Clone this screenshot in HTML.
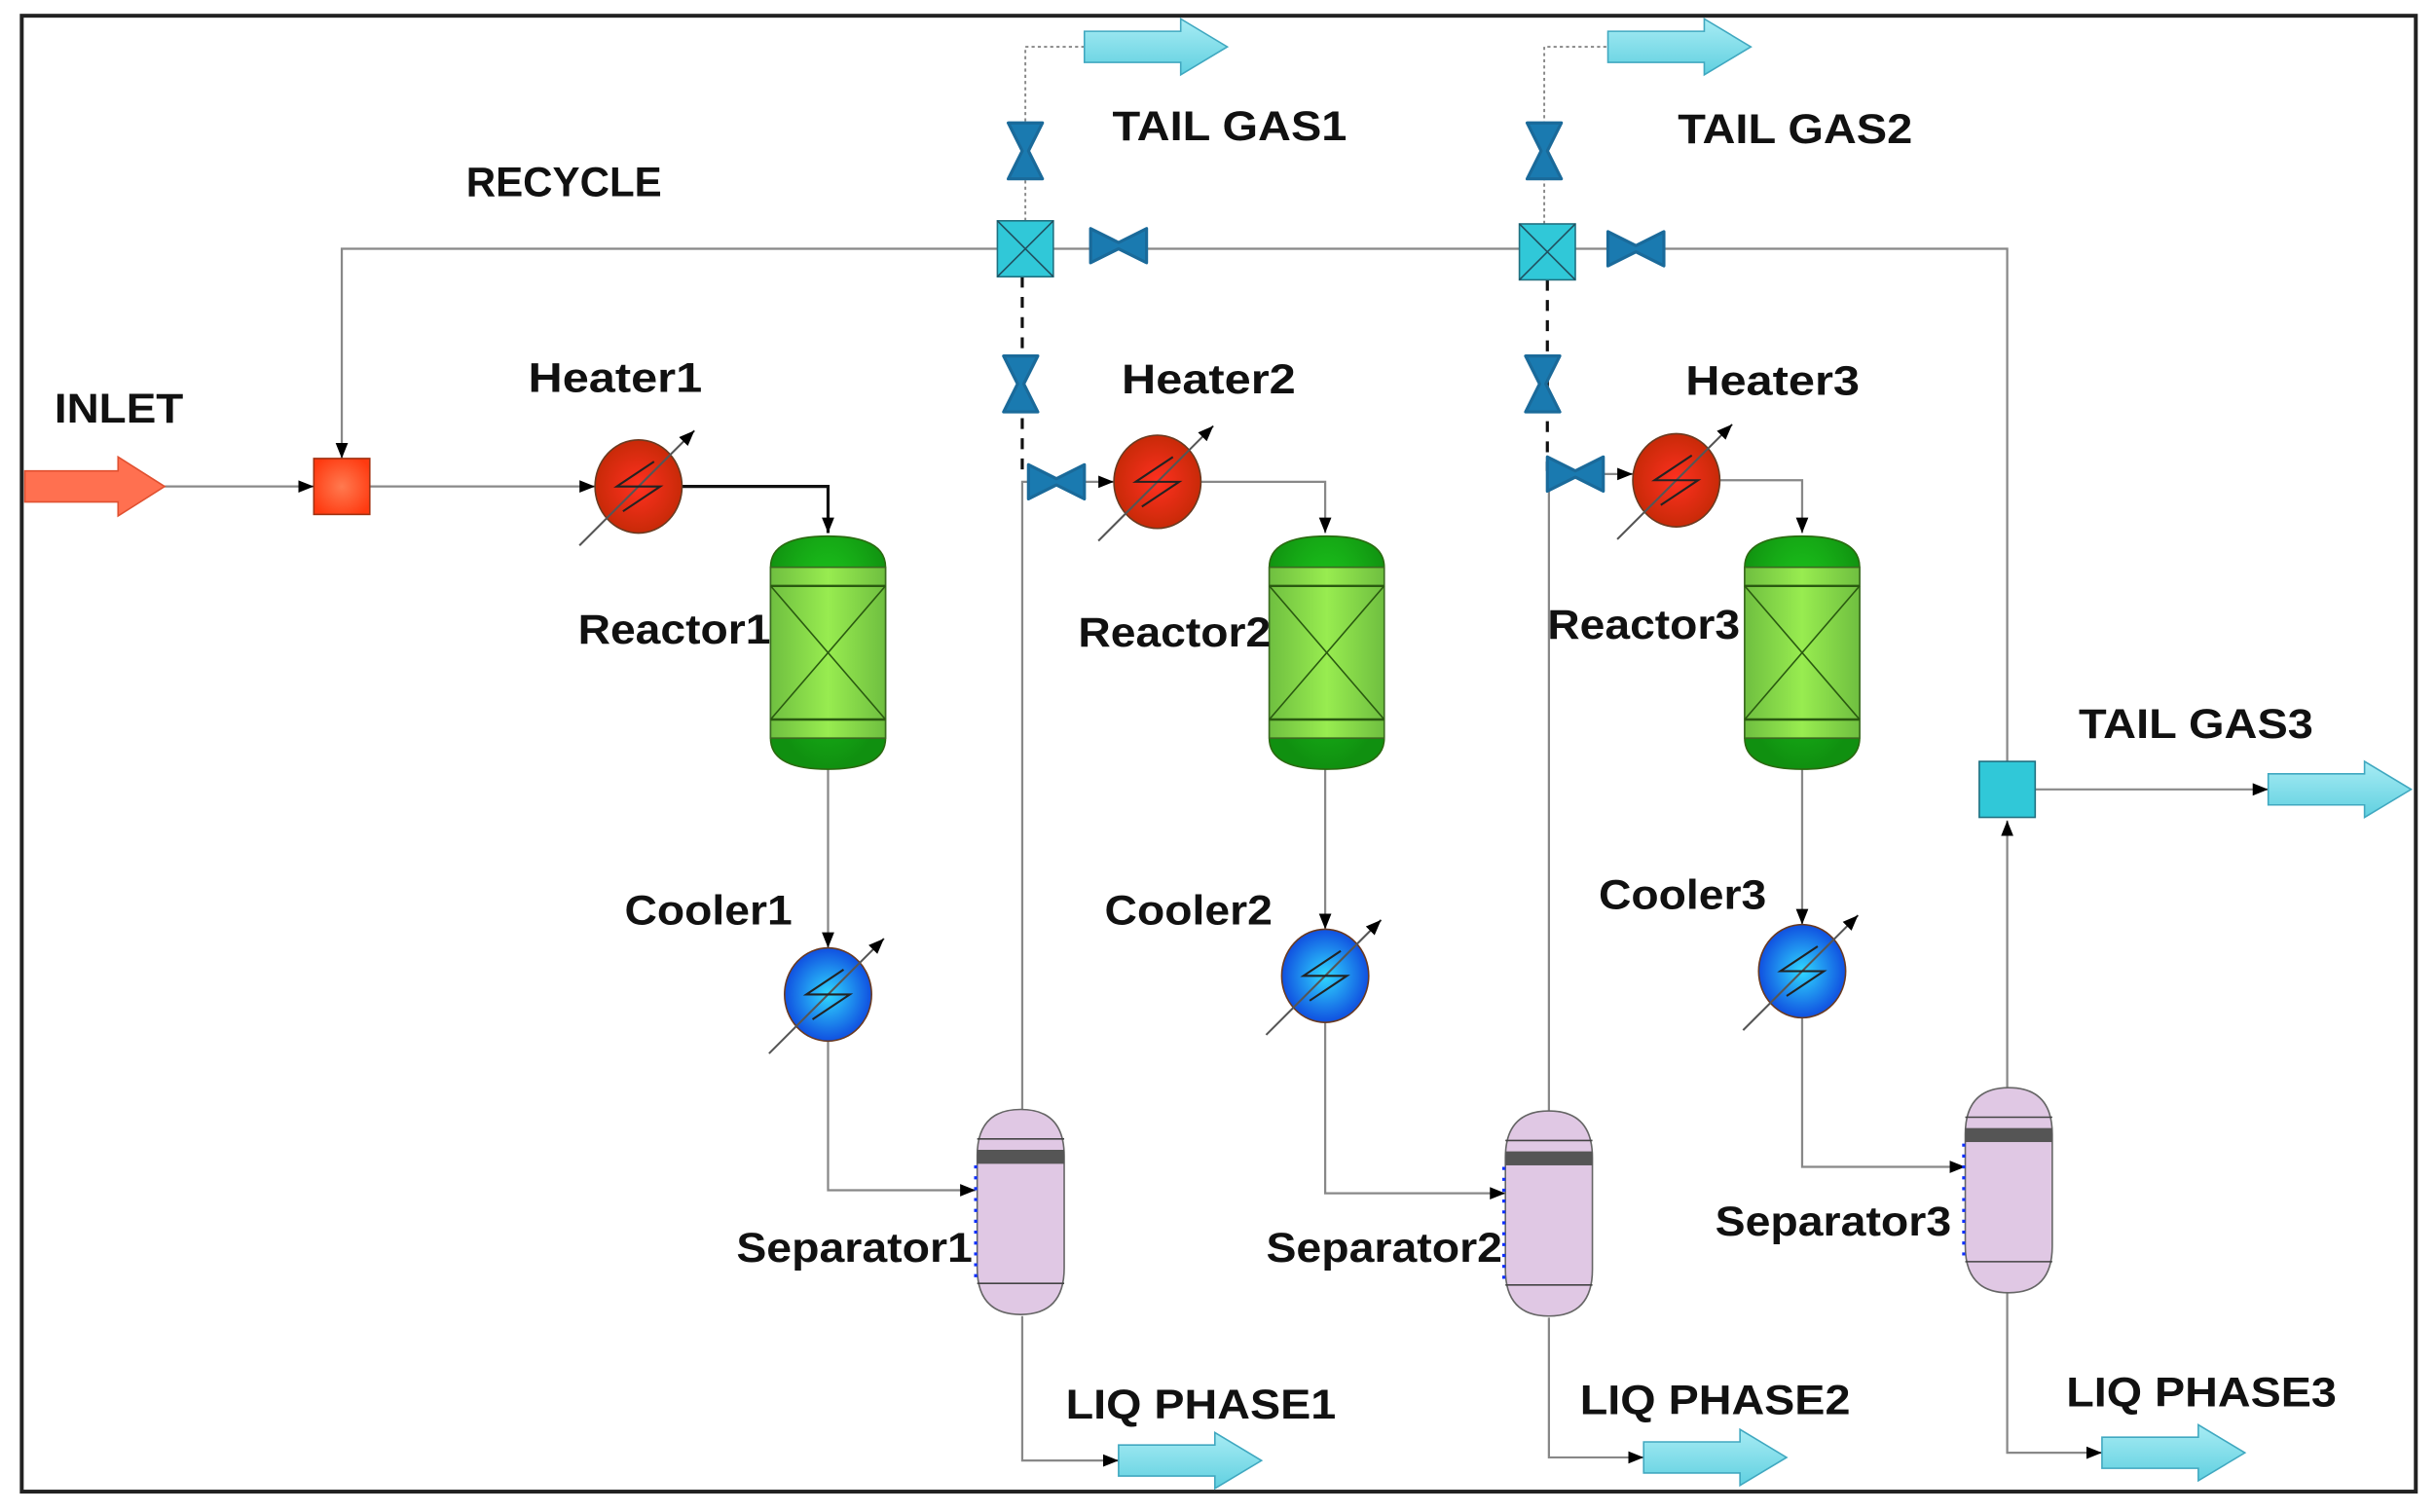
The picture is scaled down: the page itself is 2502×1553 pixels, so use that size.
<!DOCTYPE html>
<html><head><meta charset="utf-8"><style>
html,body{margin:0;padding:0;background:#fff;}
svg{display:block;}
text{font-family:"Liberation Sans",sans-serif;font-size:27px;font-weight:bold;fill:#111;}
</style></head><body>
<svg width="2502" height="1553" viewBox="0 0 1568 973" xmlns="http://www.w3.org/2000/svg">
<defs>
<radialGradient id="gr" cx="0.5" cy="0.5" r="0.5"><stop offset="0" stop-color="#ff3020"/><stop offset="1" stop-color="#c82a08"/></radialGradient>
<radialGradient id="gb" cx="0.5" cy="0.5" r="0.5"><stop offset="0" stop-color="#30d8ff"/><stop offset="1" stop-color="#1050e0"/></radialGradient>
<radialGradient id="gm" cx="0.5" cy="0.5" r="0.6"><stop offset="0" stop-color="#ff7a50"/><stop offset="1" stop-color="#ff3a10"/></radialGradient>
<linearGradient id="gg" x1="0" x2="1"><stop offset="0" stop-color="#6fbf40"/><stop offset="0.5" stop-color="#98ec50"/><stop offset="1" stop-color="#6fbf40"/></linearGradient>
<radialGradient id="gd" cx="0.5" cy="0.4" r="0.6"><stop offset="0" stop-color="#20d820"/><stop offset="1" stop-color="#109010"/></radialGradient>
<linearGradient id="gc" x1="0" x2="0" y1="0" y2="1"><stop offset="0" stop-color="#a8ecf4"/><stop offset="1" stop-color="#60d0e0"/></linearGradient>
<marker id="ar" viewBox="0 0 10 10" refX="10" refY="5" markerWidth="10" markerHeight="10" markerUnits="userSpaceOnUse" orient="auto"><path d="M0,1 L10,5 L0,9 z" fill="#000"/></marker>
<g id="heat">
<ellipse cx="0" cy="0" rx="28" ry="30" stroke="#6a3a20" stroke-width="1"/>
<line x1="-38" y1="38" x2="36" y2="-36" stroke="#555" stroke-width="1.3" marker-end="url(#ar)"/>
<path d="M10,-16 L-14,0 L14,0 L-10,16" fill="none" stroke="#222" stroke-width="1.3"/>
</g>
<g id="reac">
<path d="M0,20 Q0,0 37,0 Q74,0 74,20 L74,130 Q74,150 37,150 Q0,150 0,130 Z" fill="url(#gd)" stroke="#2a6a10"/>
<rect x="0" y="20" width="74" height="110" fill="url(#gg)" stroke="#3a6a20"/>
<line x1="0" y1="32" x2="74" y2="32" stroke="#2a5a10" stroke-width="1.5"/>
<line x1="0" y1="118" x2="74" y2="118" stroke="#2a5a10" stroke-width="1.5"/>
<line x1="0" y1="32" x2="74" y2="118" stroke="#2a5a10"/>
<line x1="74" y1="32" x2="0" y2="118" stroke="#2a5a10"/>
</g>
<g id="sep">
<path d="M0,30 Q0,0 28,0 Q56,0 56,30 L56,102 Q56,132 28,132 Q0,132 0,102 Z" fill="#e0c8e4" stroke="#666"/>
<line x1="0" y1="19" x2="56" y2="19" stroke="#444"/>
<rect x="0" y="26" width="56" height="9" fill="#555"/>
<line x1="0" y1="112" x2="56" y2="112" stroke="#444"/>
<line x1="-1" y1="36" x2="-1" y2="110" stroke="#1030ff" stroke-width="2" stroke-dasharray="2,5"/>
</g>
<g id="vh"><path d="M-18,-11 L-18,11 L0,2 L18,11 L18,-11 L0,-2 Z" fill="#1a7ab0" stroke="#1a6a9a" stroke-linejoin="round" stroke-width="2"/></g>
<g id="vv"><path d="M-11,-18 L11,-18 L2,0 L11,18 L-11,18 L-2,0 Z" fill="#1a7ab0" stroke="#1a6a9a" stroke-linejoin="round" stroke-width="2"/></g>
<g id="out"><path d="M0,-10 L62,-10 L62,-18 L92,0 L62,18 L62,10 L0,10 Z" fill="url(#gc)" stroke="#40a8c0"/></g>
<g id="spl"><rect x="-18" y="-18" width="36" height="36" fill="#30c8d8" stroke="#207080"/><line x1="-18" y1="-18" x2="18" y2="18" stroke="#205060"/><line x1="18" y1="-18" x2="-18" y2="18" stroke="#205060"/></g>
</defs>

<rect x="14" y="10" width="1541" height="950" fill="#fff" stroke="#222" stroke-width="2.5"/>

<g fill="none" stroke="#888" stroke-width="1.4">
<line x1="106" y1="313" x2="202" y2="313" marker-end="url(#ar)"/>
<line x1="238" y1="313" x2="383" y2="313" marker-end="url(#ar)"/>
<polyline points="1292,700 1292,528" marker-end="url(#ar)"/>
<polyline points="1292,492 1292,160 220,160 220,295" marker-end="url(#ar)"/>
<line x1="1310" y1="508" x2="1460" y2="508" marker-end="url(#ar)"/>
<line x1="533" y1="495" x2="533" y2="610" marker-end="url(#ar)"/>
<line x1="853" y1="495" x2="853" y2="598" marker-end="url(#ar)"/>
<line x1="1160" y1="495" x2="1160" y2="595" marker-end="url(#ar)"/>
<polyline points="533,668 533,766 628,766" marker-end="url(#ar)"/>
<polyline points="853,656 853,768 969,768" marker-end="url(#ar)"/>
<polyline points="1160,653 1160,751 1265,751" marker-end="url(#ar)"/>
<polyline points="658,715 658,310 698,310"/>
<polyline points="997,715 997,305 1030,305"/>
<line x1="698" y1="310" x2="717" y2="310" marker-end="url(#ar)"/>
<line x1="1030" y1="305" x2="1051" y2="305" marker-end="url(#ar)"/>
<polyline points="658,847 658,940 720,940" marker-end="url(#ar)"/>
<polyline points="997,848 997,938 1058,938" marker-end="url(#ar)"/>
<polyline points="1292,832 1292,935 1353,935" marker-end="url(#ar)"/>
<polyline points="773,310 853,310 853,343" marker-end="url(#ar)"/>
<polyline points="1107,309 1160,309 1160,343" marker-end="url(#ar)"/>
</g>
<polyline points="439,313 533,313 533,343" fill="none" stroke="#111" stroke-width="2" marker-end="url(#ar)"/>
<g fill="none" stroke="#888" stroke-width="1.2" stroke-dasharray="2,2">
<polyline points="660,142 660,30 698,30"/>
<polyline points="994,144 994,30 1035,30"/>
</g>
<g fill="none" stroke="#111" stroke-width="2" stroke-dasharray="7,6">
<line x1="658" y1="178" x2="658" y2="308"/>
<line x1="996" y1="180" x2="996" y2="303"/>
</g>

<use href="#out" x="698" y="30"/>
<use href="#out" x="1035" y="30"/>
<use href="#out" x="1460" y="508"/>
<use href="#out" x="720" y="940"/>
<use href="#out" x="1058" y="938"/>
<use href="#out" x="1353" y="935"/>
<path d="M16,303 L76,303 L76,294 L106,313 L76,332 L76,323 L16,323 Z" fill="#ff7050" stroke="#e05030"/>

<rect x="202" y="295" width="36" height="36" fill="url(#gm)" stroke="#a03010"/>
<use href="#spl" x="660" y="160"/>
<use href="#spl" x="996" y="162"/>
<rect x="1274" y="490" width="36" height="36" fill="#30c8d8" stroke="#207080"/>
<use href="#vh" x="720" y="158"/>
<use href="#vh" x="1053" y="160"/>
<use href="#vh" x="680" y="310"/>
<use href="#vh" x="1014" y="305"/>
<use href="#vv" x="660" y="97"/>
<use href="#vv" x="994" y="97"/>
<use href="#vv" x="657" y="247"/>
<use href="#vv" x="993" y="247"/>

<use href="#heat" x="411" y="313" fill="url(#gr)"/>
<use href="#heat" x="745" y="310" fill="url(#gr)"/>
<use href="#heat" x="1079" y="309" fill="url(#gr)"/>
<use href="#heat" x="533" y="640" fill="url(#gb)"/>
<use href="#heat" x="853" y="628" fill="url(#gb)"/>
<use href="#heat" x="1160" y="625" fill="url(#gb)"/>

<use href="#reac" x="496" y="345"/>
<use href="#reac" x="817" y="345"/>
<use href="#reac" x="1123" y="345"/>
<use href="#sep" x="629" y="714"/>
<use href="#sep" x="969" y="715"/>
<use href="#sep" x="1265" y="700"/>

<g>
<text x="35" y="272" textLength="83" lengthAdjust="spacingAndGlyphs">INLET</text>
<text x="300" y="126" textLength="126" lengthAdjust="spacingAndGlyphs">RECYCLE</text>
<text x="340" y="252" textLength="112" lengthAdjust="spacingAndGlyphs">Heater1</text>
<text x="722" y="253" textLength="112" lengthAdjust="spacingAndGlyphs">Heater2</text>
<text x="1085" y="254" textLength="112" lengthAdjust="spacingAndGlyphs">Heater3</text>
<text x="372" y="414" textLength="124" lengthAdjust="spacingAndGlyphs">Reactor1</text>
<text x="694" y="416" textLength="124" lengthAdjust="spacingAndGlyphs">Reactor2</text>
<text x="996" y="411" textLength="124" lengthAdjust="spacingAndGlyphs">Reactor3</text>
<text x="402" y="595" textLength="108" lengthAdjust="spacingAndGlyphs">Cooler1</text>
<text x="711" y="595" textLength="108" lengthAdjust="spacingAndGlyphs">Cooler2</text>
<text x="1029" y="585" textLength="108" lengthAdjust="spacingAndGlyphs">Cooler3</text>
<text x="474" y="812" textLength="152" lengthAdjust="spacingAndGlyphs">Separator1</text>
<text x="815" y="812" textLength="152" lengthAdjust="spacingAndGlyphs">Separator2</text>
<text x="1104" y="795" textLength="152" lengthAdjust="spacingAndGlyphs">Separator3</text>
<text x="716" y="90" textLength="151" lengthAdjust="spacingAndGlyphs">TAIL GAS1</text>
<text x="1080" y="92" textLength="151" lengthAdjust="spacingAndGlyphs">TAIL GAS2</text>
<text x="1338" y="475" textLength="151" lengthAdjust="spacingAndGlyphs">TAIL GAS3</text>
<text x="686" y="913" textLength="174" lengthAdjust="spacingAndGlyphs">LIQ PHASE1</text>
<text x="1017" y="910" textLength="174" lengthAdjust="spacingAndGlyphs">LIQ PHASE2</text>
<text x="1330" y="905" textLength="174" lengthAdjust="spacingAndGlyphs">LIQ PHASE3</text>
</g>
</svg>
</body></html>
